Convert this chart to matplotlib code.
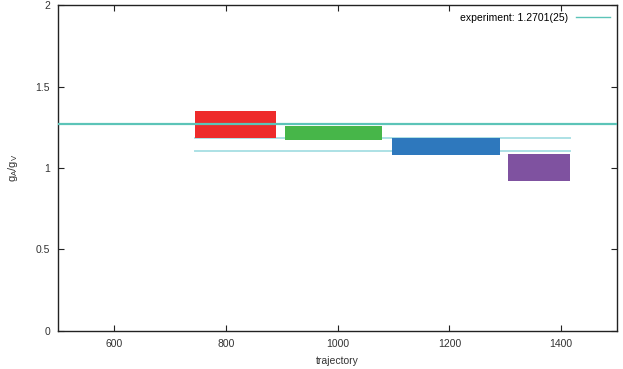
import matplotlib.pyplot as plt
from matplotlib.lines import Line2D

plt.rcParams['font.family'] = ['Liberation Sans', 'DejaVu Sans']
plt.rcParams['mathtext.fontset'] = 'custom'
plt.rcParams['mathtext.rm'] = 'Liberation Sans'
plt.rcParams['mathtext.it'] = 'Liberation Sans'

# trajectory ranges and g_A/g_V bands
x_lo = [745, 905, 1097, 1304]
x_hi = [890, 1080, 1290, 1416]
y_lo = [1.183, 1.172, 1.080, 0.922]
y_hi = [1.351, 1.258, 1.185, 1.086]
box_colors = ['#ee2b2b', '#47b649', '#2e78bd', '#7f52a0']

fit_x = [745, 1416]
fit_lo = 1.106
fit_hi = 1.186

exp_value = 1.2701
exp_label = 'experiment: 1.2701(25)'

fig = plt.figure(figsize=(6.23, 3.69), dpi=100)
ax = fig.add_axes([0.0939, 0.1043, 0.8965, 0.8808])

ax.plot(fit_x, [fit_hi, fit_hi], color='#ace1e5', lw=1.4, zorder=1)
ax.plot(fit_x, [fit_lo, fit_lo], color='#ace1e5', lw=1.4, zorder=1)

for x0, x1, y0, y1, c in zip(x_lo, x_hi, y_lo, y_hi, box_colors):
    ax.fill_between([x0, x1], y0, y1, color=c, lw=0, zorder=2)

ax.axhline(exp_value, color='#5cc4b8', lw=1.6, zorder=3)

ax.set_xlim(500, 1500)
ax.set_ylim(0, 2)
ax.set_xticks([600, 800, 1000, 1200, 1400])
ax.set_yticks([0, 0.5, 1, 1.5, 2])
ax.set_yticklabels(['0', '0.5', '1', '1.5', '2'])
ax.tick_params(direction='in', top=True, right=True, length=4, width=0.8,
               labelsize=7.5, colors='#222222', labelcolor='#333333', pad=6)
for s in ax.spines.values():
    s.set_linewidth(1.0)
    s.set_color('#222222')

ax.set_xlabel('trajectory', fontsize=7.5, color='#333333', labelpad=5)
ax.set_ylabel(r'$\mathregular{g_A/g_V}$', fontsize=8, color='#333333', labelpad=11)

handle = Line2D([], [], color='#5cc4b8', lw=1.0)
ax.legend([handle], [exp_label], loc='upper right', frameon=False, fontsize=7.5,
          handlelength=3.2, markerfirst=False, borderaxespad=0.3)

fig.savefig('out.png', dpi=100)
